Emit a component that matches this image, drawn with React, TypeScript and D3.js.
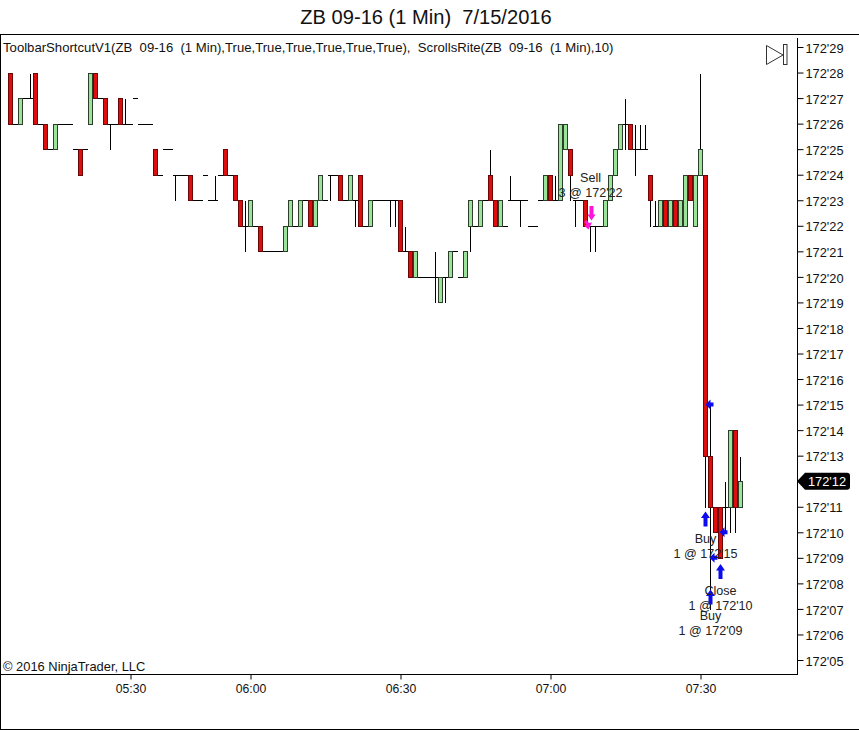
import React from 'react';
import * as d3 from 'd3';

const width = 859;
const height = 730;
const plot = {left: 0, top: 34, right: 797, bottom: 674};
const font = '"Liberation Sans", Arial, sans-serif';
const upColor = '#9be39b';
const downColor = '#de0e0e';
const upEdge = '#2b3f2b';
const downEdge = '#6a0606';

// prices are in 32nds above 172, bars run from index 2 and sit 5px apart
const firstBar = 2;
const opens = [
  28, 26, 26, 27, 27, 28, 26, 26, 25, 25, 26, 26, 26, 25, 25, 25, 26, 28, 27, 27,
  26, 26, 27, 26, 26, 27, 26, 26, 26, 25, 24, 25, 25, 24, 24, 24, 24, 23, 23, 24,
  23, 23, 24, 25, 24, 24, 23, 22, 22, 22, 22, 21, 21, 21, 21, 21, 22, 22, 22, 23,
  23, 22, 23, 23, 24, 24, 24, 23, 23, 23, 24, 22, 22, 23, 23, 23, 23, 23, 23, 21,
  21, 20, 20, 20, 20, 20, 19, 20, 20, 21, 20, 20, 22, 22, 22, 23, 24, 23, 22, 22,
  23, 23, 23, 23, 22, 22, 23, 23, 24, 23, 23, 25, 25, 23, 23, 23, 22, 22, 22, 22,
  23, 24, 25, 26, 26, 25, 25, 25, 24, 22, 22, 23, 22, 23, 22, 22, 24, 22, 24, 24,
  13, 11, 11, 11, 11, 14, 11,
];
const closes = [
  26, 26, 27, 27, 27, 26, 26, 25, 25, 26, 26, 26, 26, 25, 24, 25, 28, 27, 27, 26,
  26, 26, 26, 26, 26, 27, 26, 26, 26, 24, 24, 25, 25, 24, 24, 24, 23, 23, 23, 24,
  23, 23, 24, 24, 24, 23, 22, 22, 23, 22, 21, 21, 21, 21, 21, 22, 23, 22, 23, 23,
  22, 23, 24, 23, 24, 24, 23, 23, 24, 23, 22, 22, 23, 23, 23, 23, 23, 23, 21, 21,
  20, 21, 20, 20, 20, 20, 20, 20, 21, 21, 20, 21, 23, 22, 23, 23, 23, 22, 23, 22,
  23, 23, 23, 23, 22, 22, 23, 24, 23, 23, 26, 26, 24, 23, 23, 22, 22, 22, 22, 23,
  24, 25, 26, 26, 25, 25, 25, 25, 23, 22, 23, 22, 23, 22, 23, 24, 23, 24, 25, 13,
  11, 10, 9, 11, 14, 11, 12,
];
const highs = [
  28, 26, 27, 27, 28, 28, 26, 26, 25, 26, 26, 26, 26, 25, 25, 25, 28, 28, 27, 27,
  26, 26, 27, 27, 26, 27, 26, 26, 26, 25, 24, 25, 25, 24, 24, 24, 24, 23, 23, 24,
  23, 24, 24, 25, 24, 24, 23, 23, 23, 22, 22, 21, 21, 21, 21, 22, 23, 22, 23, 23,
  23, 23, 24, 23, 24, 24, 24, 23, 24, 23, 24, 22, 23, 23, 23, 23, 23, 23, 23, 22,
  21, 21, 20, 20, 20, 21, 20, 20, 21, 21, 20, 21, 23, 22, 23, 23, 25, 23, 23, 22,
  24, 23, 23, 23, 22, 22, 23, 24, 24, 24, 26, 26, 25, 23, 23, 23, 22, 22, 22, 23,
  24, 25, 26, 27, 26, 26, 26, 26, 24, 23, 23, 23, 23, 23, 23, 24, 24, 24, 28, 24,
  15, 11, 11, 12, 14, 14, 13,
];
const lows = [
  26, 26, 26, 27, 27, 26, 26, 25, 25, 25, 26, 26, 26, 25, 24, 25, 26, 27, 27, 26,
  25, 26, 26, 26, 26, 27, 26, 26, 26, 24, 24, 25, 25, 23, 24, 24, 23, 23, 23, 24,
  23, 23, 24, 24, 24, 23, 22, 21, 22, 22, 21, 21, 21, 21, 21, 21, 22, 22, 22, 23,
  22, 22, 23, 23, 23, 24, 23, 23, 23, 22, 22, 22, 22, 23, 23, 23, 22, 22, 21, 21,
  20, 20, 20, 20, 20, 19, 19, 19, 20, 21, 20, 20, 21, 22, 22, 23, 23, 22, 22, 22,
  23, 23, 22, 23, 22, 22, 23, 23, 23, 23, 23, 25, 23, 22, 23, 22, 21, 21, 22, 22,
  23, 24, 25, 25, 25, 24, 25, 25, 22, 22, 22, 22, 22, 22, 22, 22, 23, 22, 24, 11,
  7, 10, 9, 10, 10, 10, 11,
];

const lastPrice = 12;
const priceTicks = d3.range(5, 30).filter(p => p !== lastPrice);
const timeTickBars = [26, 50, 80, 110, 140];
const timeLabels = ['05:30', '06:00', '06:30', '07:00', '07:30'];

const tradeBars = [118.2, 117.4, 141, 141.8, 144.6, 142.6, 144, 142];
const tradePrices = [22.5, 22.05, 10.5, 15, 10, 9, 8.45, 7.45];
const tradeKinds = ['down', 'smallDown', 'up', 'left', 'left', 'left', 'up', 'up'];
const tradeColors = ['#ff14d8', '#ff14d8', '#0b0bf0', '#0b0bf0', '#0b0bf0', '#0b0bf0', '#0b0bf0', '#0b0bf0'];

const noteBars = [118, 141, 144, 142];
const noteTops = [178, 539, 591, 616];
const noteFirst = ['Sell', 'Buy', 'Close', 'Buy'];
const noteSecond = ["3 @ 172'22", "1 @ 172'15", "1 @ 172'10", "1 @ 172'09"];

const fmtPrice = (p: number) => `172'${String(p).padStart(2, '0')}`;

const xScale = d3.scaleLinear().domain([0, 159.4]).range([0.5, 797.5]);
const yScale = d3.scaleLinear().domain([29, 5]).range([47, 660]);
const py = (p: number) => Math.round(yScale(p)) + 0.5;

const arrowPaths: Record<string, string> = {
  up: 'M0,-8 L4.5,-1.5 L2,-1.5 L2,7 L-2,7 L-2,-1.5 L-4.5,-1.5 Z',
  down: 'M0,7.5 L4,1.5 L2,1.5 L2,-7 L-2,-7 L-2,1.5 L-4,1.5 Z',
  left: 'M-4,0 L1,-5 L1,-2 L4,-2 L4,2 L1,2 L1,5 Z',
  smallDown: 'M1,5 L4.5,-2 L1.5,-1.5 L-1,-4.5 L-3.5,-2.5 L-1,0 L-3,1.5 Z',
};

const App: React.FC = () => {
  const xAxisRef = React.useRef<SVGGElement>(null);
  const yAxisRef = React.useRef<SVGGElement>(null);

  React.useEffect(() => {
    const xAxis = d3.axisBottom(xScale)
      .tickValues(timeTickBars)
      .tickFormat((_, i) => timeLabels[i])
      .tickSizeOuter(0)
      .tickSize(5)
      .tickPadding(5);
    const yAxis = d3.axisRight(yScale)
      .tickValues(priceTicks)
      .tickFormat(d => fmtPrice(d as number))
      .tickSizeOuter(0)
      .tickSize(6)
      .tickPadding(2);

    if (xAxisRef.current) {
      const g = d3.select(xAxisRef.current).call(xAxis);
      g.select('.domain').remove();
      g.selectAll('text').attr('font-size', 12.2).attr('font-family', font).attr('fill', '#111');
    }
    if (yAxisRef.current) {
      const g = d3.select(yAxisRef.current).call(yAxis);
      g.select('.domain').remove();
      g.selectAll('text').attr('font-size', 12.8).attr('font-family', font).attr('fill', '#111').attr('dy', '0.4em');
    }
  }, []);

  const lastY = yScale(lastPrice);

  return (
    <svg width={width} height={height} style={{position: 'absolute', left: 0, top: 0, background: '#fff'}}>
      <text x={426} y={24} textAnchor='middle' fontFamily={font} fontSize={20.1} fill='#111' style={{whiteSpace: 'pre'}}>
        {'ZB 09-16 (1 Min)  7/15/2016'}
      </text>

      <g stroke='#000' strokeWidth={1} fill='none' shapeRendering='crispEdges'>
        <path d={`M0.5,${height - 0.5} V${plot.top + 0.5} H${width}`} />
        <path d={`M0,${plot.bottom + 0.5} H${plot.right + 0.5} V${plot.top + 4}`} />
        <path d={`M0,${height - 0.5} H${width}`} />
      </g>

      <text x={3} y={52} fontFamily={font} fontSize={13.15} fill='#111' style={{whiteSpace: 'pre'}}>
        {'ToolbarShortcutV1(ZB  09-16  (1 Min),True,True,True,True,True,True),  ScrollsRite(ZB  09-16  (1 Min),10)'}
      </text>
      <text x={3} y={671} fontFamily={font} fontSize={12.9} fill='#111'>© 2016 NinjaTrader, LLC</text>

      <g fill='#fff' stroke='#333' strokeWidth={1}>
        <path d='M766.5,45.5 L783,55 L766.5,64.5 Z' />
        <rect x={783.5} y={44.5} width={3.5} height={20} />
      </g>

      <g shapeRendering='crispEdges'>
        {opens.map((open, k) => {
          const x = xScale(firstBar + k);
          const close = closes[k];
          const rising = close > open;
          return (
            <g key={k}>
              <line x1={x} x2={x} y1={py(highs[k])} y2={py(lows[k])} stroke='#000' />
              {open === close
                ? <line x1={x - 2.5} x2={x + 2.5} y1={py(open)} y2={py(open)} stroke='#000' />
                : <rect
                    x={x - 2}
                    width={4}
                    y={py(Math.max(open, close))}
                    height={py(Math.min(open, close)) - py(Math.max(open, close))}
                    fill={rising ? upColor : downColor}
                    stroke={rising ? upEdge : downEdge}
                  />}
            </g>
          );
        })}
      </g>

      {tradeBars.map((bar, k) => (
        <path
          key={k}
          d={arrowPaths[tradeKinds[k]]}
          transform={`translate(${xScale(bar)},${yScale(tradePrices[k])})`}
          fill={tradeColors[k]}
        />
      ))}

      {noteBars.map((bar, k) => (
        <g key={k} textAnchor='middle' fontFamily={font} fontSize={12.6} fill='#222'>
          <text x={xScale(bar)} y={noteTops[k] + 4}>{noteFirst[k]}</text>
          <text x={xScale(bar)} y={noteTops[k] + 18.5}>{noteSecond[k]}</text>
        </g>
      ))}

      <g ref={xAxisRef} transform={`translate(0, ${plot.bottom + 0.5})`} />
      <g ref={yAxisRef} transform={`translate(${plot.right + 0.5}, 0)`} />

      <path
        d={`M797,${lastY} L805,${lastY - 8.5} H847 Q850,${lastY - 8.5} 850,${lastY - 5.5} V${lastY + 5.5} Q850,${lastY + 8.5} 847,${lastY + 8.5} H805 Z`}
        fill='#000'
      />
      <text x={808} y={lastY + 5} fontFamily={font} fontSize={12.8} fill='#fff'>{fmtPrice(lastPrice)}</text>
    </svg>
  );
};

export default App;
